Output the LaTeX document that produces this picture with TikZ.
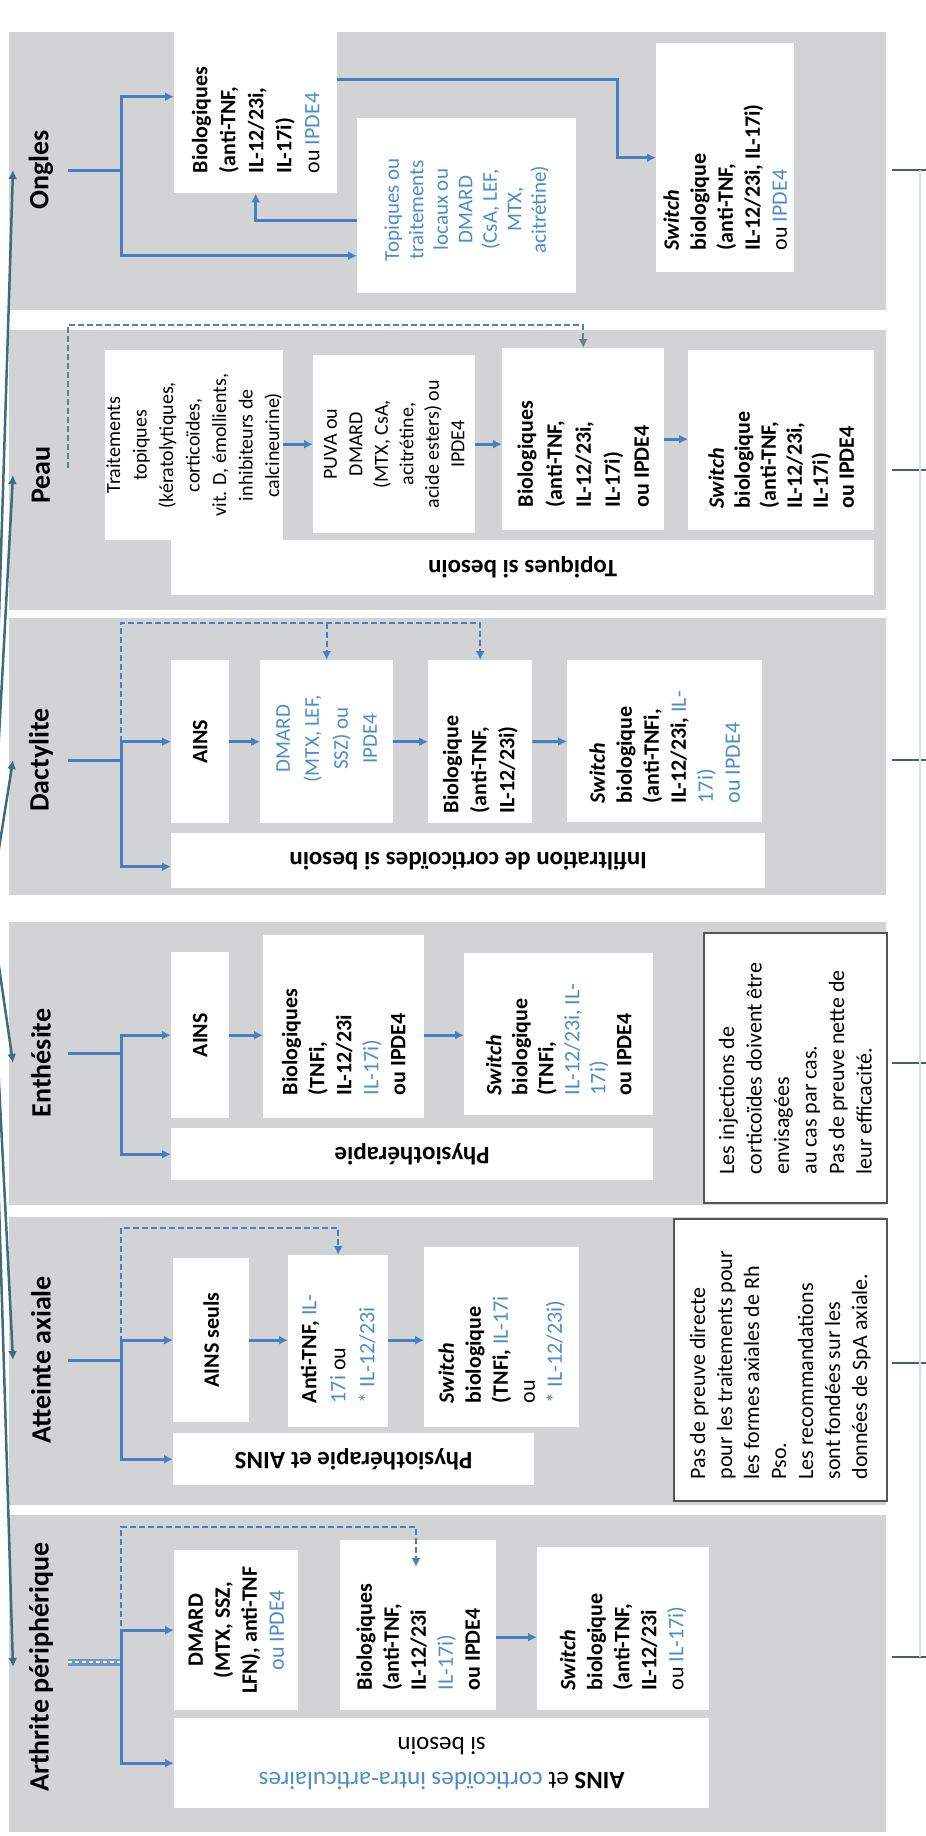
\documentclass[tikz,border=0pt]{standalone}
\usepackage{fontspec}
\setmainfont{Carlito}
\usetikzlibrary{arrows.meta}
\definecolor{bandgray}{RGB}{209,211,213}
\definecolor{arrowblue}{RGB}{72,126,194}
\definecolor{txtblue}{RGB}{74,140,205}
\definecolor{stubgray}{RGB}{70,98,104}
\definecolor{feedteal}{RGB}{62,108,122}
\definecolor{notegray}{RGB}{85,85,85}
\definecolor{peaudash}{RGB}{96,132,128}
\definecolor{faintline}{RGB}{205,228,234}
\newcommand{\bltext}[1]{\textcolor{txtblue}{#1}}
\begin{document}
\begin{tikzpicture}[x=1pt,y=-1pt,>={Latex[length=9pt,width=9pt]},
  pband/.style={fill=bandgray},
  wbox/.style={fill=white,inner sep=0pt,anchor=north west},
  notebox/.style={wbox,draw=notegray,line width=1.5pt},
  blab/.style={rotate=90,inner sep=0pt,font=\fontsize{28}{32}\selectfont\bfseries},
  txt/.style={rotate=90,inner sep=0pt,align=left,anchor=west,font=\fontsize{22}{27}\selectfont},
  btxt/.style={txt,font=\fontsize{22}{27}\selectfont\bfseries},
  ctxt/.style={rotate=90,inner sep=0pt,align=center,font=\fontsize{21}{25}\selectfont},
  barlab/.style={rotate=180,inner sep=0pt,align=center,font=\fontsize{25}{35}\selectfont\bfseries},
  flow/.style={draw=arrowblue,line width=3pt},
  dashflow/.style={draw=arrowblue,line width=2pt,dash pattern=on 6pt off 3pt},
  stub/.style={draw=stubgray,line width=2.5pt},
  feed/.style={draw=feedteal,line width=2.5pt,->}]
  \useasboundingbox (0,0) rectangle (926,1836);

  \fill[pband] (9,32) rectangle (886,310);
  \node[blab] (olab) at (41,170) {Ongles};
  \coordinate (ostart) at (68,170);
  \coordinate (ojoin) at (121,170);
  \node[wbox,minimum width=163pt,minimum height=193pt] (ob1) at (174,0) {};
  \node[btxt,font=\fontsize{22}{28}\selectfont\bfseries] (ob1t) at ([yshift=20pt]ob1.south) {Biologiques\\(anti-TNF,\\IL-12/23i,\\IL-17i)\\\textmd{ou \bltext{IPDE4}}};
  \node[wbox,minimum width=219pt,minimum height=175pt] (ob2) at (357,118) {};
  \node[ctxt,text=txtblue,font=\fontsize{21}{24.5}\selectfont] (ob2t) at ([yshift=-4pt]ob2.center) {Topiques ou\\traitements\\locaux ou\\DMARD\\(CsA, LEF,\\MTX,\\acitrétine)};
  \node[wbox,minimum width=138pt,minimum height=229pt] (ob3) at (656,43) {};
  \node[btxt] (ob3t) at ([yshift=22pt]ob3.south) {\textit{Switch}\\biologique\\(anti-TNF,\\IL-12/23i, IL-17i)\\\textmd{ou \bltext{IPDE4}}};
  \draw[flow] (ostart) -- (ojoin);
  \draw[flow,->] (ojoin) |- (ob1);
  \draw[flow,->] (ojoin) |- ([yshift=-50pt]ob2.west);
  \draw[flow,->] ([yshift=-15pt]ob2.west) -| (ob1.south);
  \draw[flow,->] ([yshift=17pt]ob1.east) -- ++(280,0) |- (ob3);

  \fill[pband] (9,330) rectangle (886,610);
  \node[blab] (plab) at (41,475) {Peau};
  \coordinate (pdash) at (68,468);
  \node[wbox,minimum width=178pt,minimum height=190pt] (pb1) at (105,350) {};
  \node[ctxt,font=\fontsize{20}{26.5}\selectfont] (pb1t) at (pb1) {Traitements\\topiques\\(kératolytiques,\\corticoïdes,\\vit. D, émollients,\\inhibiteurs de\\calcineurine)};
  \node[wbox,minimum width=162pt,minimum height=178pt] (pb2) at (313,355) {};
  \node[ctxt,font=\fontsize{20}{25.5}\selectfont] (pb2t) at (pb2) {PUVA ou\\DMARD\\(MTX, CsA,\\acitrétine,\\acide esters) ou\\IPDE4};
  \node[wbox,minimum width=162pt,minimum height=182pt] (pb3) at (502,348) {};
  \node[btxt,font=\fontsize{22}{29}\selectfont\bfseries] (pb3t) at ([yshift=23pt]pb3.south) {Biologiques\\(anti-TNF,\\IL-12/23i,\\IL-17i)\\ou IPDE4};
  \node[wbox,minimum width=186pt,minimum height=180pt] (pb4) at (688,350) {};
  \node[btxt,font=\fontsize{22}{26}\selectfont\bfseries] (pb4t) at ([yshift=22pt]pb4.south) {\textit{Switch}\\biologique\\(anti-TNF,\\IL-12/23i,\\IL-17i)\\ou IPDE4};
  \node[wbox,minimum width=703pt,minimum height=55pt] (pb5) at (171,540) {};
  \node[barlab] (pb5t) at (pb5) {Topiques si besoin};
  \draw[dashflow,draw=peaudash,->] (pdash) -- ++(0,-143) -| (pb3.north);
  \draw[flow,->] (pb1.east |- pb2.west) -- (pb2.west);
  \draw[flow,->] (pb2.east) -- (pb2.east -| pb3.west);
  \draw[flow,->] (pb3.east) -- (pb3.east -| pb4.west);

  \fill[pband] (9,618) rectangle (886,895);
  \node[blab] (dlab) at (41,760) {Dactylite};
  \coordinate (dstart) at (68,760);
  \coordinate (djoin) at (121,760);
  \coordinate (dtop) at (121,623);
  \node[wbox,minimum width=58pt,minimum height=163pt] (db1) at (171,660) {};
  \node[btxt,anchor=center] (db1t) at (db1) {AINS};
  \node[wbox,minimum width=133pt,minimum height=163pt] (db2) at (260,660) {};
  \node[ctxt,text=txtblue,font=\fontsize{21}{29}\selectfont] (db2t) at ([yshift=3pt]db2.center) {DMARD\\(MTX, LEF,\\SSZ) ou\\IPDE4};
  \node[wbox,minimum width=104pt,minimum height=163pt] (db3) at (428,660) {};
  \node[btxt,font=\fontsize{22}{28}\selectfont\bfseries] (db3t) at ([yshift=10pt]db3.south) {Biologique\\(anti-TNF,\\IL-12/23i)};
  \node[wbox,minimum width=195pt,minimum height=162pt] (db4) at (567,660) {};
  \node[btxt] (db4t) at ([yshift=19pt]db4.south) {\textit{Switch}\\biologique\\(anti-TNFi,\\IL-12/23i, \textmd{\bltext{IL-}}\\\textmd{\bltext{17i)}}\\\textmd{\bltext{ou IPDE4}}};
  \node[wbox,minimum width=594pt,minimum height=55pt] (db5) at (171,833) {};
  \node[barlab] (db5t) at (db5) {Infiltration de corticoïdes si besoin};
  \draw[dashflow,->] (djoin) -- (dtop) -| (db3.north);
  \draw[dashflow,->] (db2.north |- dtop) -- (db2.north);
  \draw[flow] (dstart) -- (djoin);
  \draw[flow,->] (djoin) |- (db1);
  \draw[flow,->] (djoin) |- ([yshift=-6pt]db5.west);
  \draw[flow,->] (db1) -- (db2);
  \draw[flow,->] (db2) -- (db3);
  \draw[flow,->] (db3) -- (db4);

  \fill[pband] (9,922) rectangle (886,1205);
  \node[blab] (elab) at (41,1063) {Enthésite};
  \coordinate (estart) at (68,1053);
  \coordinate (ejoin) at (121,1053);
  \node[wbox,minimum width=58pt,minimum height=166pt] (eb1) at (171,952) {};
  \node[btxt,anchor=center] (eb1t) at (eb1) {AINS};
  \node[wbox,minimum width=161pt,minimum height=183pt] (eb2) at (263,935) {};
  \node[btxt] (eb2t) at ([yshift=23pt]eb2.south) {Biologiques\\(TNFi,\\IL-12/23i\\\textmd{\bltext{IL-17i)}}\\ou IPDE4};
  \node[wbox,minimum width=189pt,minimum height=162pt] (eb3) at (464,953) {};
  \node[btxt,font=\fontsize{22}{26}\selectfont\bfseries] (eb3t) at ([yshift=20pt]eb3.south) {\textit{Switch}\\biologique\\(TNFi,\\\textmd{\bltext{IL-12/23i, IL-}}\\\textmd{\bltext{17i)}}\\ou IPDE4};
  \node[wbox,minimum width=482pt,minimum height=52pt] (eb4) at (171,1128) {};
  \node[barlab] (eb4t) at (eb4) {Physiothérapie};
  \node[notebox,minimum width=183pt,minimum height=270pt] (en) at (703,932) {};
  \node[txt,font=\fontsize{22}{27.5}\selectfont] (ent) at ([yshift=29pt]en.south) {Les injections de\\corticoïdes doivent être\\envisagées\\au cas par cas.\\Pas de preuve nette de\\leur efficacité.};
  \draw[flow] (estart) -- (ejoin);
  \draw[flow,->] (ejoin) |- (eb1);
  \draw[flow,->] (ejoin) |- (eb4);
  \draw[flow,->] (eb1) -- (eb1 -| eb2.west);
  \draw[flow,->] (eb2.east |- eb1) -- (eb3.west |- eb1);

  \fill[pband] (9,1217) rectangle (886,1505);
  \node[blab] (alab) at (41,1360) {Atteinte axiale};
  \coordinate (astart) at (68,1360);
  \coordinate (ajoin) at (121,1360);
  \coordinate (atop) at (121,1228);
  \node[wbox,minimum width=76pt,minimum height=164pt] (ab1) at (173,1258) {};
  \node[btxt,anchor=center] (ab1t) at (ab1) {AINS seuls};
  \node[wbox,minimum width=100pt,minimum height=172pt] (ab2) at (288,1255) {};
  \node[btxt,font=\fontsize{22}{29}\selectfont\bfseries] (ab2t) at ([yshift=24pt]ab2.south) {Anti-TNF, \textmd{\bltext{IL-}}\\\textmd{\bltext{17i} ou}\\\textmd{\bltext{* IL-12/23i}}};
  \node[wbox,minimum width=155pt,minimum height=180pt] (ab3) at (424,1247) {};
  \node[btxt] (ab3t) at ([yshift=24pt]ab3.south) {\textit{Switch}\\biologique\\(TNFi, \textmd{\bltext{IL-17i}}\\\textmd{ou}\\\textmd{\bltext{* IL-12/23i)}}};
  \node[wbox,minimum width=361pt,minimum height=52pt] (ab4) at (173,1433) {};
  \node[barlab] (ab4t) at (ab4) {Physiothérapie et AINS};
  \node[notebox,minimum width=213pt,minimum height=282pt] (an) at (673,1218) {};
  \node[txt] (ant) at ([yshift=22pt]an.south) {Pas de preuve directe\\pour les traitements pour\\les formes axiales de Rh\\Pso.\\Les recommandations\\sont fondées sur les\\données de SpA axiale.};
  \draw[dashflow,->] (ajoin) -- (atop) -| (ab2.north);
  \draw[flow] (astart) -- (ajoin);
  \draw[flow,->] (ajoin) |- (ab1);
  \draw[flow,->] (ajoin) |- (ab4);
  \draw[flow,->] (ab1) -- (ab1 -| ab2.west);
  \draw[flow,->] (ab2.east |- ab1) -- (ab3.west |- ab1);

  \fill[pband] (9,1515) rectangle (886,1832);
  \node[blab] (rlab) at (41,1667) {Arthrite périphérique};
  \coordinate (rstart) at (68,1662);
  \coordinate (rjoin) at (121,1662);
  \coordinate (rtop) at (121,1527);
  \coordinate (rdrop) at (416,1567);
  \node[wbox,minimum width=124pt,minimum height=160pt] (rb1) at (174,1550) {};
  \node[ctxt,font=\fontsize{22}{27}\selectfont\bfseries] (rb1t) at (rb1) {DMARD\\(MTX, SSZ,\\LFN), anti-TNF\\\textmd{\bltext{ou IPDE4}}};
  \node[wbox,minimum width=156pt,minimum height=170pt] (rb2) at (340,1540) {};
  \node[btxt] (rb2t) at ([yshift=20pt]rb2.south) {Biologiques\\(anti-TNF,\\IL-12/23i\\\textmd{\bltext{IL-17i)}}\\ou IPDE4};
  \node[wbox,minimum width=172pt,minimum height=163pt] (rb3) at (537,1547) {};
  \node[btxt] (rb3t) at ([yshift=20pt]rb3.south) {\textit{Switch}\\biologique\\(anti-TNF,\\IL-12/23i\\\textmd{ou \bltext{IL-17i)}}};
  \node[wbox,minimum width=535pt,minimum height=90pt] (rb4) at (174,1718) {};
  \node[barlab,font=\fontsize{25}{35}\selectfont] (rb4t) at (rb4) {\textbf{AINS} et \bltext{corticoïdes intra-articulaires}\\si besoin};
  \coordinate (r23) at ([yshift=-12pt]rb2.east);
  \draw[dashflow,->] (rjoin) -- (rtop) -| (rdrop);
  \draw[flow,line width=7pt,draw=arrowblue!80] (rstart) -- (rjoin);
  \draw[white,line width=1.2pt,dash pattern=on 4pt off 3pt] (rstart) -- (rjoin);
  \draw[flow,->] (rjoin) |- (rb1);
  \draw[flow,->] (rjoin) |- (rb4);
  \draw[flow,->] (r23) -- (r23 -| rb3.west);

  \coordinate (src) at (-10,905);
  \foreach \y/\n in {170/o,475/p,760/d,1063/e,1360/a,1667/r}{
    \coordinate (\n-feed) at (13,\y);
    \draw[feed] (src) -- (\n-feed);
  }
  \foreach \y/\n in {170/o,470/p,760/d,1063/e,1363/a,1657/r}{
    \coordinate (\n-stub) at (892,\y);
    \draw[stub] (\n-stub) -- ++(40,0);
  }
  \draw[draw=faintline,line width=1.5pt] ([xshift=28pt]o-stub) -- ([xshift=28pt]r-stub);
\end{tikzpicture}
\end{document}
